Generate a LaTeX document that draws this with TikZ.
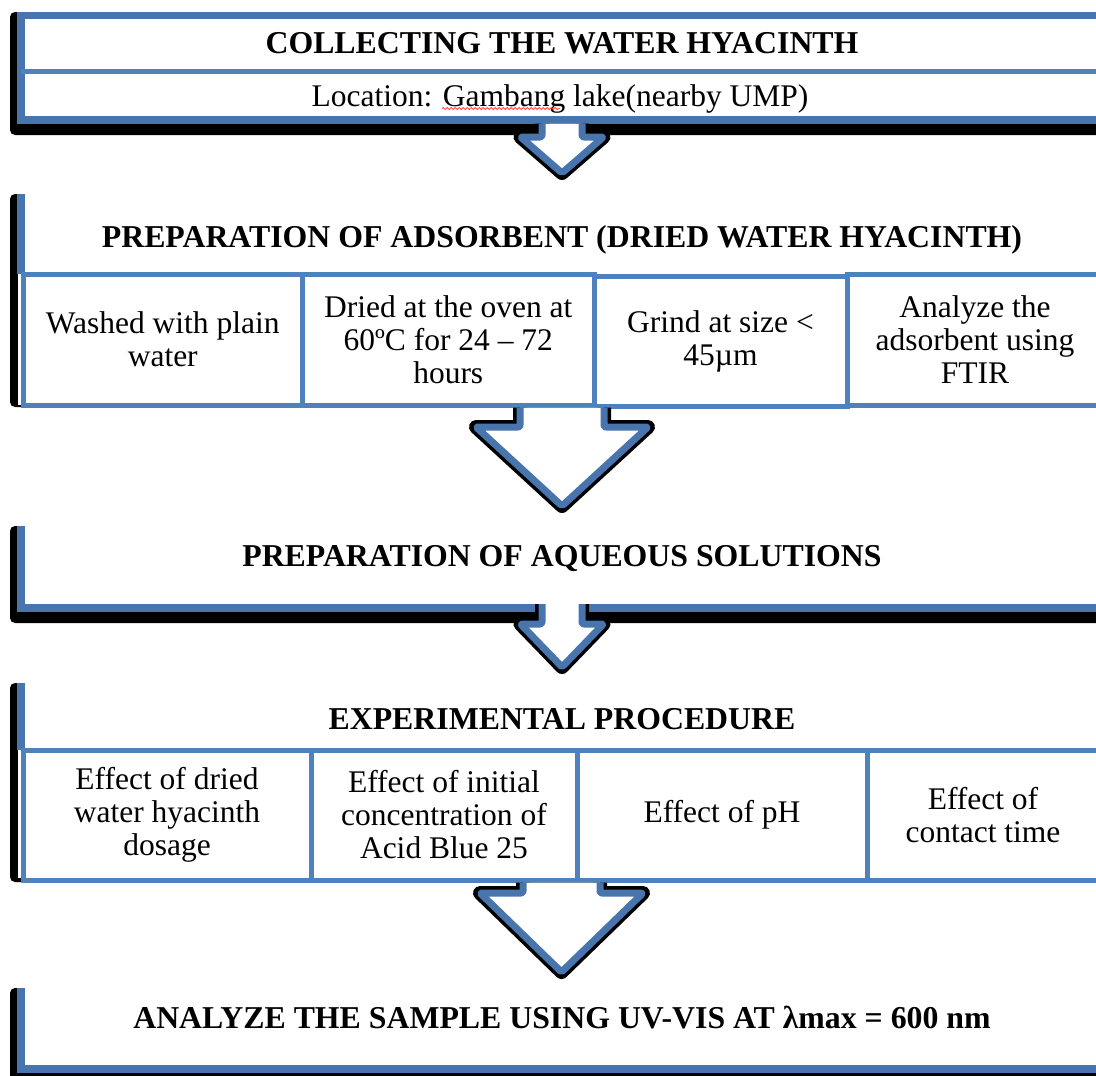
\documentclass[tikz,border=0pt]{standalone}
\usepackage{fontspec}
\setmainfont{Liberation Serif}
\usetikzlibrary{calc,decorations.pathmorphing}

\definecolor{frameblue}{RGB}{72,117,173}
\definecolor{cellblue}{RGB}{79,129,189}

\newcommand{\cellfont}{\fontsize{31.5}{33}\selectfont}
\newcommand{\titlefont}{\fontsize{31.8}{33}\selectfont\bfseries}

\tikzset{
  boxshadow/.style={fill=black, rounded corners=5pt},
  boxface/.style={fill=white},
  frameline/.style={draw=frameblue, line width=7.5pt},
  divline/.style={draw=cellblue, line width=5pt},
  taskcell/.style={draw=cellblue, line width=5pt, fill=white, inner sep=0pt, align=center, font=\cellfont},
  stagetitle/.style={anchor=base, inner sep=0pt, font=\titlefont},
  loctext/.style={anchor=base, inner sep=0pt, font=\cellfont},
  arrowshadow/.style={draw=black, fill=black, line width=14pt, line join=round, shift={(0,7)}},
  arrowbody/.style={draw=frameblue, fill=white, line width=7pt, line join=round, rounded corners=2pt},
  spellmark/.style={draw=red!70, line width=0.9pt, decorate, decoration={snake, amplitude=0.9pt, segment length=4pt}}
}

% block arrow: #1 start, #2 tip, #3 half shaft, #4 half head, #5 shaft length
\newcommand{\flowarrow}[5]{%
  \path[arrowshadow] ($(#1)+(-#3,0)$) -- ($(#1)+(-#3,#5)$) -- ($(#1)+(-#4,#5)$) -- (#2) -- ($(#1)+(#4,#5)$) -- ($(#1)+(#3,#5)$) -- ($(#1)+(#3,0)$);
  \path[arrowbody] ($(#1)+(-#3,0)$) -- ($(#1)+(-#3,#5)$) -- ($(#1)+(-#4,#5)$) -- (#2) -- ($(#1)+(#4,#5)$) -- ($(#1)+(#3,#5)$) -- ($(#1)+(#3,0)$);
}

\begin{document}
\begin{tikzpicture}[x=1pt,y=-1pt]
  \clip (0,0) rectangle (1096,1076);

  %Shape: stage 1, collecting
  \fill[boxshadow] (10,12) rectangle (1110,135);
  \fill[boxface] (17.5,12) rectangle (1110,123.5);
  \draw[frameline] (1110,15.5) -- (21,15.5) -- (21,120) -- (1110,120);
  \draw[divline] (21,71.5) -- (1110,71.5);

  %Shape: stage 2, adsorbent
  \fill[boxshadow] (10,194) rectangle (1110,407);
  \fill[boxface] (17.5,194) rectangle (1110,405);
  \draw[frameline] (21,194) -- (21,274);
  \node[taskcell, minimum width=279.5, minimum height=131] (wash) at (162.75,339.5) {Washed with plain\\water};
  \node[taskcell, minimum width=291.5, minimum height=131] (dry) at (448.25,339.5) {Dried at the oven at\\60ºC for 24 – 72\\hours};
  \node[taskcell, minimum width=253, minimum height=130] (grind) at (720.5,341) {Grind at size <\\45µm};
  \node[taskcell, minimum width=256, minimum height=131] (ftir) at (975,339.5) {Analyze the\\adsorbent using\\FTIR};

  %Shape: stage 3, aqueous solutions
  \fill[boxshadow] (10,526) rectangle (1110,623);
  \fill[boxface] (17.5,526) rectangle (1110,612);
  \draw[frameline] (21,526) -- (21,608) -- (1110,608);

  %Shape: stage 4, experiments
  \fill[boxshadow] (10,683) rectangle (1110,882);
  \fill[boxface] (17.5,683) rectangle (1110,878);
  \draw[frameline] (21,683) -- (21,750);
  \node[taskcell, minimum width=288, minimum height=130] (dosage) at (167,815) {Effect of dried\\water hyacinth\\dosage};
  \node[taskcell, minimum width=266, minimum height=130] (conc) at (444,815) {Effect of initial\\concentration of\\Acid Blue 25};
  \node[taskcell, minimum width=290, minimum height=130] (ph) at (722,815) {Effect of pH};
  \node[taskcell, minimum width=232, minimum height=130] (time) at (983,815) {Effect of\\contact time};

  %Shape: stage 5, analysis
  \fill[boxshadow] (10,988) rectangle (1110,1090);
  \fill[boxface] (17.5,988) rectangle (1110,1072.5);
  \draw[frameline] (21,988) -- (21,1069) -- (1110,1069);

  % Text Node
  \node[stagetitle] (collect-title) at (562,53.5) {COLLECTING THE WATER HYACINTH};
  % Text Node
  \node[loctext] (collect-loc) at (560,106) {Location: Gambang lake(nearby UMP)};
  \draw[spellmark] (442,108.5) -- (560,108.5);
  % Text Node
  \node[stagetitle] (prep-title) at (562,247) {PREPARATION OF ADSORBENT (DRIED WATER HYACINTH)};
  % Text Node
  \node[stagetitle] (aqueous-title) at (562,566) {PREPARATION OF AQUEOUS SOLUTIONS};
  % Text Node
  \node[stagetitle] (exp-title) at (562,729) {EXPERIMENTAL PROCEDURE};
  % Text Node
  \node[stagetitle] (analyze-title) at (562,1028) {ANALYZE THE SAMPLE USING UV-VIS AT λmax = 600 nm};

  % arrow ends
  \coordinate (collect-out) at (562,123.5);
  \coordinate (prep-in) at (562,173);
  \coordinate (prep-out) at (562,407.5);
  \coordinate (aqueous-in) at (562,506);
  \coordinate (aqueous-out) at (562,604);
  \coordinate (exp-in) at (562,667);
  \coordinate (exp-out) at (561.5,882.5);
  \coordinate (analyze-in) at (561.5,972);

  %Shape: block arrows
  \flowarrow{collect-out}{prep-in}{20}{41.5}{13.5}
  \flowarrow{prep-out}{aqueous-in}{42}{86}{19.5}
  \flowarrow{aqueous-out}{exp-in}{20}{41.5}{20}
  \flowarrow{exp-out}{analyze-in}{38.5}{81.5}{10.5}
\end{tikzpicture}
\end{document}
